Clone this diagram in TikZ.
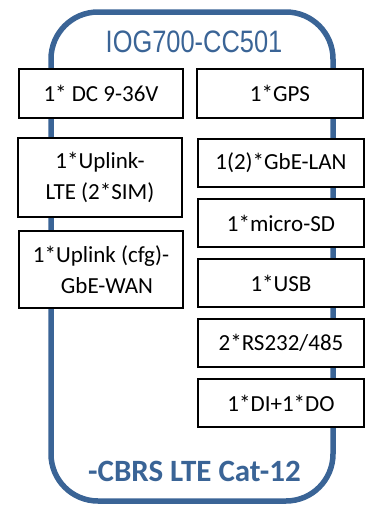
\documentclass[tikz,border=0pt]{standalone}
\usepackage{fontspec}
\setmainfont{Carlito}
\newfontfamily\narrowfont[FakeStretch=0.82]{Liberation Sans}
\definecolor{frameblue}{HTML}{3A6496}
\begin{document}
\begin{tikzpicture}[x=1pt,y=-1pt,
  box/.style={draw=black,line width=1.3pt,fill=white,rectangle,inner sep=0pt,
    align=center,font=\fontsize{23}{31}\selectfont},
  frame/.style={draw=frameblue,line width=5.5pt,rounded corners=47pt},
  heading/.style={text=frameblue,inner sep=0pt}]
\useasboundingbox (0,0) rectangle (366,507);
\draw[frame] (51,12) rectangle (333,501);
\node[heading,font=\narrowfont\fontsize{31}{31}\selectfont] (title) at (194,42) {IOG700-CC501};
\node[heading,font=\bfseries\fontsize{31}{31}\selectfont] (cbrs) at (194.5,471) {-CBRS LTE Cat-12};
\node[box,minimum width=164pt,minimum height=49pt] (dc) at (101,93.5) {1* DC 9-36V};
\node[box,minimum width=166pt,minimum height=49pt] (gps) at (280,93.5) {1*GPS};
\node[box,minimum width=164pt,minimum height=79pt] (lte) at (100,177.5) {1*Uplink-\\LTE (2*SIM)};
\node[box,minimum width=164pt,minimum height=77pt] (wan) at (101,269.5) {1*Uplink (cfg)-\\\hspace*{12pt}GbE-WAN};
\node[box,minimum width=166pt,minimum height=48pt] (lan) at (281,163) {1(2)*GbE-LAN};
\node[box,minimum width=166pt,minimum height=48pt] (sd) at (281,223) {1*micro-SD};
\node[box,minimum width=166pt,minimum height=48pt] (usb) at (281,283) {1*USB};
\node[box,minimum width=166pt,minimum height=48pt] (rs) at (281,343) {2*RS232/485};
\node[box,minimum width=166pt,minimum height=48pt] (dio) at (281,403) {1*DI+1*DO};
\end{tikzpicture}
\end{document}
